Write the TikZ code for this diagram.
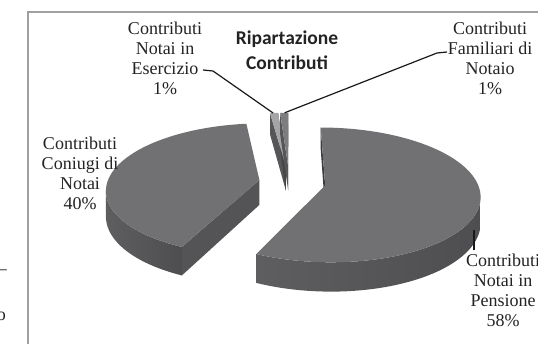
\documentclass[tikz,border=0pt]{standalone}
\usepackage{fontspec}
\setmainfont{Liberation Serif}
\newfontfamily\titlefont{Carlito}
\definecolor{pietop}{RGB}{113,113,115}
\definecolor{sideA}{RGB}{94,94,96}
\definecolor{sideB}{RGB}{60,60,62}
\definecolor{sideC}{RGB}{78,78,80}
\definecolor{radface}{RGB}{84,84,86}
\definecolor{slvtopA}{RGB}{165,165,167}
\definecolor{slvtopB}{RGB}{125,125,127}
\definecolor{slvside}{RGB}{86,86,88}
\definecolor{framegray}{RGB}{160,160,160}
\definecolor{txt}{RGB}{35,35,35}
\def\cx{289.3}\def\cy{182}\def\R{152}\def\bb{65.1}\def\kk{0.14}
\def\ou{0}\def\ov{0}
\pgfmathdeclarefunction{PX}{2}{\pgfmathparse{\cx+\R*(#2*sin(#1)+(\ou))/(1+\kk*(#2*cos(#1)+(\ov)))}}
\pgfmathdeclarefunction{PY}{3}{\pgfmathparse{\cy+(-\bb*(#2*cos(#1)+(\ov))+#3)/(1+\kk*(#2*cos(#1)+(\ov)))}}
\tikzset{
  lbl/.style={align=center, font=\fontsize{18}{20}\selectfont, text=txt, inner sep=0pt},
  ttl/.style={align=center, font=\titlefont\bfseries\fontsize{19.5}{25}\selectfont, text=txt, inner sep=0pt},
  leader/.style={draw=black!90, line width=1.2pt},
  frameline/.style={draw=framegray, line width=1.4pt},
}
\begin{document}
\begin{tikzpicture}[x=1pt,y=-1pt]
\useasboundingbox (0,0) rectangle (538,343);
\clip (0,0) rectangle (538,343);
% frame
\draw[frameline] (28,346) -- (28,12) -- (541,12);
% clipped fragments at the left
\node[lbl] (frag1) at (2.5,272) {–};
\node[lbl] (frag2) at (1.5,316) {o};

% ---- sliver: Esercizio
\begin{scope}
\def\ou{-0.0235}\def\ov{0.2489}
\fill[slvside] ({PX(0,0)},{PY(0,0,0)}) -- ({PX(352.8,1)},{PY(352.8,1,0)}) -- ({PX(352.8,1)},{PY(352.8,1,25)}) -- ({PX(0,0)},{PY(0,0,25)}) -- cycle;
\fill[slvside!80!black] ({PX(0,0)},{PY(0,0,0)}) -- ({PX(356.4,1)},{PY(356.4,1,0)}) -- ({PX(356.4,1)},{PY(356.4,1,25)}) -- ({PX(0,0)},{PY(0,0,25)}) -- cycle;
\fill[slvtopA] ({PX(0,0)},{PY(0,0,0)}) -- plot[domain=352.8:356.4,samples=5] ({PX(\x,1)},{PY(\x,1,0)}) -- cycle;
\coordinate (esc-tip) at ({PX(354.2,1)},{PY(354.2,1,0)});
\end{scope}
% ---- sliver: Familiari
\begin{scope}
\def\ou{-0.0079}\def\ov{0.2499}
\fill[slvside] ({PX(0,0)},{PY(0,0,0)}) -- ({PX(356.4,1)},{PY(356.4,1,0)}) -- ({PX(356.4,1)},{PY(356.4,1,25)}) -- ({PX(0,0)},{PY(0,0,25)}) -- cycle;
\fill[slvside!70!black] ({PX(0,0)},{PY(0,0,0)}) -- ({PX(360,1)},{PY(360,1,0)}) -- ({PX(360,1)},{PY(360,1,25)}) -- ({PX(0,0)},{PY(0,0,25)}) -- cycle;
\fill[slvtopB] ({PX(0,0)},{PY(0,0,0)}) -- plot[domain=356.4:360,samples=5] ({PX(\x,1)},{PY(\x,1,0)}) -- cycle;
\coordinate (fam-tip) at ({PX(358.4,1)},{PY(358.4,1,0)});
\end{scope}

% ---- Coniugi 40%
\begin{scope}
\def\ou{-0.1976}\def\ov{0.0309}
\fill[radface] ({PX(0,0)},{PY(0,0,0)}) -- ({PX(205,1)},{PY(205,1,0)}) -- ({PX(205,1)},{PY(205,1,25)}) -- ({PX(0,0)},{PY(0,0,25)}) -- cycle;
\shade[left color=sideA, right color=sideC] plot[domain=205:261,samples=30] ({PX(\x,1)},{PY(\x,1,0)}) -- plot[domain=261:205,samples=30] ({PX(\x,1)},{PY(\x,1,25)}) -- cycle;
\fill[pietop] ({PX(0,0)},{PY(0,0,0)}) -- plot[domain=205:352.8,samples=80] ({PX(\x,1)},{PY(\x,1,0)}) -- cycle;
\end{scope}

% ---- Pensione 58%
\begin{scope}
\def\ou{0.2343}\def\ov{-0.0519}
\fill[sideB] ({PX(0,0)},{PY(0,0,0)}) -- ({PX(0,1)},{PY(0,1,0)}) -- ({PX(0,1)},{PY(0,1,25)}) -- ({PX(0,0)},{PY(0,0,25)}) -- cycle;
\shade[left color=sideA, middle color=sideB, right color=sideC] plot[domain=100:205,samples=50] ({PX(\x,1)},{PY(\x,1,0)}) -- plot[domain=205:100,samples=50] ({PX(\x,1)},{PY(\x,1,25)}) -- cycle;
\fill[pietop] ({PX(0,0)},{PY(0,0,0)}) -- plot[domain=0:205,samples=100] ({PX(\x,1)},{PY(\x,1,0)}) -- cycle;
\end{scope}

% ---- title and labels
\node[ttl] (title) at (287,50) {Ripartazione\\Contributi};
\node[lbl] (esc) at (165,58) {Contributi\\Notai in\\Esercizio\\1\%};
\node[lbl] (fam) at (490,58) {Contributi\\Familiari di\\Notaio\\1\%};
\node[lbl] (con) at (80,173) {Contributi\\Coniugi di\\Notai\\40\%};
\node[lbl] (pen) at (503,290) {Contributi\\Notai in\\Pensione\\58\%};

% ---- leader lines
\coordinate (esc-end) at (203,70);
\coordinate (esc-knee) at (213,71);
\coordinate (fam-end) at (447,52);
\coordinate (fam-knee) at (437,53);
\coordinate (pen-out) at (474,230);
\coordinate (pen-in) at (474,250);
\draw[leader] (esc-end) -- (esc-knee) -- (esc-tip);
\draw[leader] (fam-end) -- (fam-knee) -- (fam-tip);
\draw[leader] (pen-out) -- (pen-in);
\end{tikzpicture}
\end{document}
